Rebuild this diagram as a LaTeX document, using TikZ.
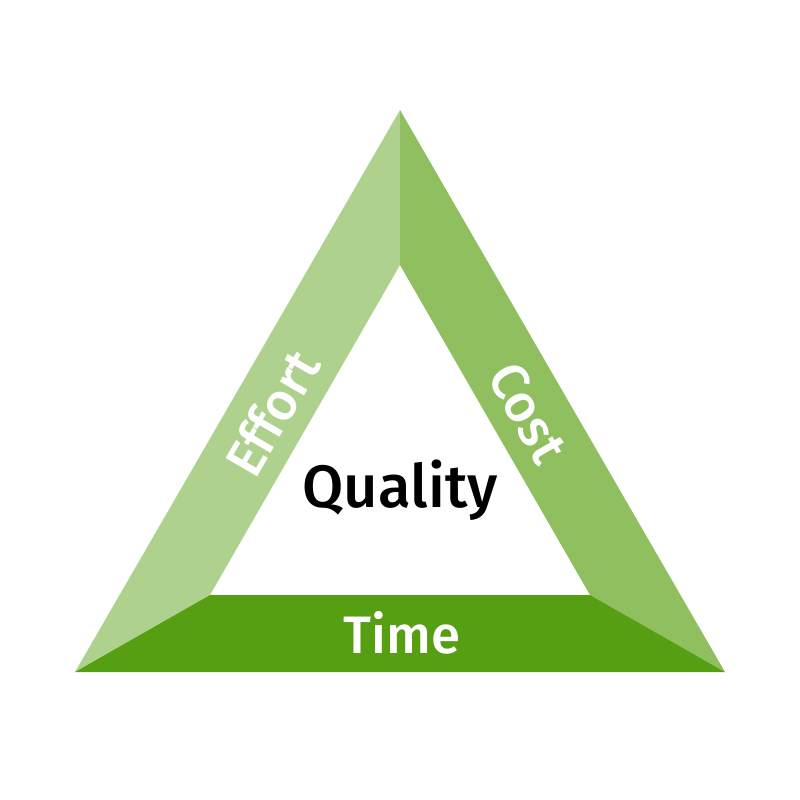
\documentclass[tikz,border=0pt]{standalone}
\usepackage{fontspec}
\setmainfont{Fira Sans}[UprightFont={* Medium}]
\definecolor{lightgr}{HTML}{AED28D}
\definecolor{midgr}{HTML}{8FBF5F}
\definecolor{darkgr}{HTML}{569E12}
\begin{document}
\begin{tikzpicture}[x=0.01cm,y=-0.01cm]
      \useasboundingbox (0,0) rectangle (800,800) ;
      \tikzset{side/.style={white,font=\fontsize{15}{15}\selectfont}}
      % outer and inner corners
      \coordinate (T) at (400,110) ; \coordinate (L) at (75,672) ; \coordinate (R) at (725,672) ;
      \coordinate (t) at (400,265) ; \coordinate (l) at (210,595) ; \coordinate (r) at (590,595) ;
      \fill[lightgr] (T)--(t)--(l)--(L)--cycle ;
      \fill[midgr] (T)--(R)--(r)--(t)--cycle ;
      \fill[darkgr] (L)--(l)--(r)--(R)--cycle ;
      \node[side,rotate=60] (effort) at (272,413) {Effort} ;
      \node[side,rotate=-60] (cost) at (528,413) {Cost} ;
      \node[side] (time) at (402,633) {Time} ;
      \node[font=\fontsize{17}{17}\selectfont] (quality) at (400,490) {Quality} ;
    \end{tikzpicture}
\end{document}
